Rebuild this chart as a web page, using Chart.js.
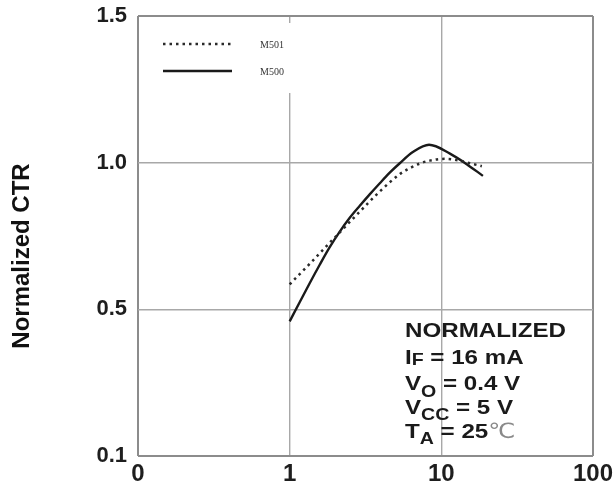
<!DOCTYPE html>
<html>
<head>
<meta charset="utf-8">
<script src="https://cdn.jsdelivr.net/npm/chart.js@4.4.1/dist/chart.umd.min.js"></script>
<style>
  html, body { margin: 0; padding: 0; background: #ffffff; }
  #wrap { width: 616px; height: 494px; }
</style>
</head>
<body>
<div id="wrap"><canvas id="c" width="616" height="494"></canvas></div>
<script>
// ---- data ----
const xTickValues = [0.1, 1, 10, 100];
const xTickLabels = ['0', '1', '10', '100'];
const yTickValues = [0, 0.5, 1.0, 1.5];
const yTickLabels = ['0.1', '0.5', '1.0', '1.5'];

const seriesNames = ['M501', 'M500'];

const xM501 = [1, 1.164, 1.355, 1.578, 1.837, 2.14, 2.49, 2.90, 3.37, 3.93, 4.57, 5.32, 6.19, 7.21, 8.39, 10.5, 13.2, 15.4, 18.5];
const yM501 = [0.585, 0.620, 0.655, 0.691, 0.727, 0.762, 0.798, 0.833, 0.868, 0.902, 0.933, 0.961, 0.981, 0.997, 1.007, 1.013, 1.007, 0.998, 0.988];

const xM500 = [1, 1.164, 1.355, 1.578, 1.837, 2.14, 2.49, 2.90, 3.37, 3.93, 4.57, 5.32, 6.49, 8.3, 11.4, 14.7, 18.8];
const yM500 = [0.459, 0.524, 0.589, 0.652, 0.712, 0.765, 0.812, 0.853, 0.892, 0.930, 0.966, 0.998, 1.036, 1.061, 1.031, 0.995, 0.955];

const yTitle = 'Normalized CTR';
const noteLines = [
  [{t: 'NORMALIZED'}],
  [{t: 'I'}, {t: 'F', sub: 1}, {t: ' = 16 mA'}],
  [{t: 'V'}, {t: 'O', sub: 7}, {t: ' = 0.4 V'}],
  [{t: 'V'}, {t: 'CC', sub: 6}, {t: ' = 5 V'}],
  [{t: 'T'}, {t: 'A', sub: 6}, {t: ' = 25'}, {t: '\u2103', grey: true}]
];

const FONT = '"Liberation Sans", Arial, Helvetica, sans-serif';

function pts(xs, ys) { return xs.map((x, i) => ({x: x, y: ys[i]})); }

const decorPlugin = {
  id: 'decor',
  beforeDatasetsDraw(chart) {
    const ctx = chart.ctx;
    const area = chart.chartArea;
    // white legend box that interrupts the grid line
    ctx.save();
    ctx.fillStyle = '#ffffff';
    ctx.fillRect(area.left + 2, area.top + 7, 160, 70);
    ctx.restore();
  },
  afterDraw(chart) {
    const ctx = chart.ctx;
    const ds = chart.data.datasets;
    // legend
    ctx.save();
    const rows = [44, 71];
    ds.forEach((d, i) => {
      ctx.beginPath();
      ctx.strokeStyle = d.borderColor;
      ctx.lineWidth = d.borderWidth;
      ctx.setLineDash(d.borderDash || []);
      ctx.moveTo(163, rows[i]);
      ctx.lineTo(232, rows[i]);
      ctx.stroke();
      ctx.setLineDash([]);
      ctx.fillStyle = '#333';
      ctx.font = '10px "Liberation Serif", "Times New Roman", serif';
      ctx.textAlign = 'left';
      ctx.textBaseline = 'middle';
      ctx.fillText(d.label, 260, rows[i] + 1);
    });
    ctx.restore();

    // y-axis title
    ctx.save();
    ctx.translate(22, 256);
    ctx.rotate(-Math.PI / 2);
    ctx.fillStyle = '#111';
    ctx.font = 'bold 24px ' + FONT;
    ctx.textAlign = 'center';
    ctx.textBaseline = 'middle';
    ctx.fillText(yTitle, 0, 0);
    ctx.restore();

    // annotation block
    const baselines = [337, 364, 390, 414, 438];
    ctx.save();
    ctx.textBaseline = 'alphabetic';
    ctx.textAlign = 'left';
    noteLines.forEach((line, li) => {
      ctx.save();
      ctx.translate(405, baselines[li]);
      ctx.scale(1.15, 1);
      let x = 0;
      line.forEach(seg => {
        if (seg.grey) {
          ctx.font = '21px "DejaVu Sans", ' + FONT;
          ctx.fillStyle = '#8a8a8a';
        } else {
          ctx.font = (seg.sub !== undefined ? 'bold 17px ' : 'bold 21px ') + FONT;
          ctx.fillStyle = '#1a1a1a';
        }
        ctx.fillText(seg.t, x, seg.sub || 0);
        x += ctx.measureText(seg.t).width;
      });
      ctx.restore();
    });
    ctx.restore();
  }
};

const gridColor = (c) => (c.index === 0 || c.index === 3) ? '#8c8c8c' : '#a8a8a8';
const gridWidth = (c) => (c.index === 0 || c.index === 3) ? 2 : 1.4;

new Chart(document.getElementById('c'), {
  type: 'line',
  data: {
    datasets: [
      {
        label: seriesNames[0],
        data: pts(xM501, yM501),
        borderColor: '#2a2a2a',
        borderWidth: 2.5,
        borderDash: [2.5, 4],
        pointRadius: 0,
        cubicInterpolationMode: 'monotone',
        fill: false
      },
      {
        label: seriesNames[1],
        data: pts(xM500, yM500),
        borderColor: '#1a1a1a',
        borderWidth: 2.4,
        pointRadius: 0,
        cubicInterpolationMode: 'monotone',
        fill: false
      }
    ]
  },
  options: {
    responsive: false,
    animation: false,
    devicePixelRatio: 1,
    layout: { padding: { top: 16, right: 23, left: 0, bottom: 0 } },
    plugins: { legend: { display: false }, tooltip: { enabled: false } },
    scales: {
      x: {
        type: 'logarithmic',
        min: 0.1,
        max: 100,
        afterBuildTicks: (s) => { s.ticks = xTickValues.map(v => ({value: v})); },
        afterFit: (s) => { s.height = 38; s.paddingLeft = 0; s.paddingRight = 0; },
        ticks: {
          autoSkip: false,
          maxRotation: 0,
          padding: 4,
          color: '#1e1e1e',
          font: { family: FONT, size: 24, weight: 'bold' },
          callback: (v) => { const i = xTickValues.indexOf(v); return i >= 0 ? xTickLabels[i] : ''; }
        },
        grid: { color: gridColor, lineWidth: gridWidth, drawTicks: false },
        border: { display: false }
      },
      y: {
        type: 'linear',
        min: 0,
        max: 1.5,
        afterBuildTicks: (s) => { s.ticks = yTickValues.map(v => ({value: v})); },
        afterFit: (s) => { s.width = 138; s.paddingTop = 0; s.paddingBottom = 0; },
        ticks: {
          padding: 11,
          color: '#1e1e1e',
          font: { family: FONT, size: 22, weight: 'bold' },
          callback: (v) => { const i = yTickValues.indexOf(v); return i >= 0 ? yTickLabels[i] : ''; }
        },
        grid: { color: gridColor, lineWidth: gridWidth, drawTicks: false },
        border: { display: false }
      }
    }
  },
  plugins: [decorPlugin]
});
</script>
</body>
</html>
